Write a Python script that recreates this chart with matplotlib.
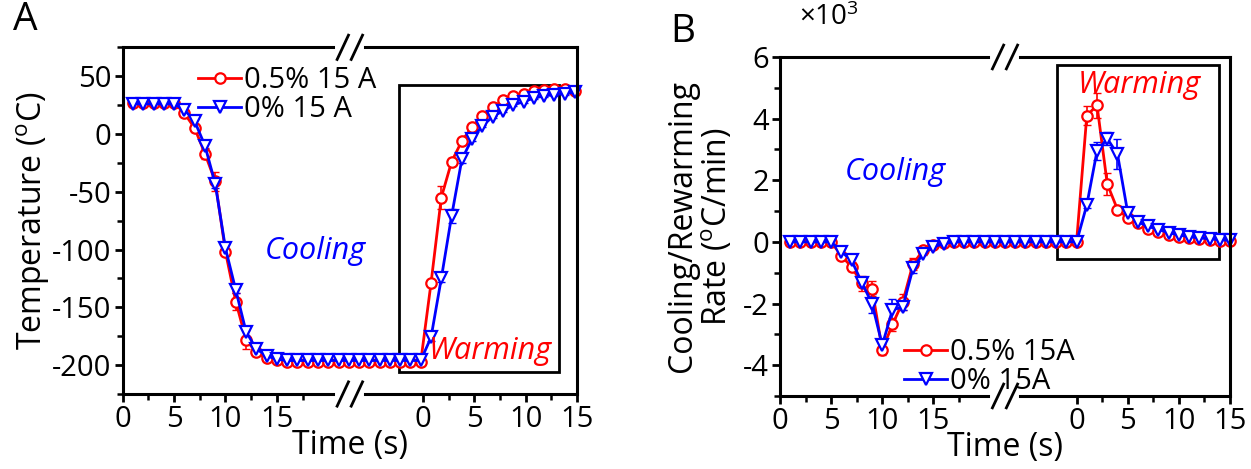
import numpy as np
import matplotlib.pyplot as plt
from matplotlib.patches import Rectangle

plt.rcParams['font.family'] = ['Open Sans', 'DejaVu Sans']
plt.rcParams['mathtext.fontset'] = 'custom'
plt.rcParams['mathtext.rm'] = 'Open Sans'
plt.rcParams['mathtext.it'] = 'Open Sans:italic'
plt.rcParams['axes.unicode_minus'] = False

# time on the drawn (broken) time line, 1 s steps: cooling part, then warming part
time = [1, 2, 3, 4, 5, 6, 7, 8, 9, 10, 11, 12, 13, 14, 15, 16, 17, 18, 19, 20, 21, 22,
        23, 24, 25, 26, 27, 28, 29, 30, 31, 32, 33, 34, 35, 36, 37, 38, 39, 40, 41, 42, 43, 44]

# A: temperature (oC)
temp_05 = [27, 27, 27, 27, 27, 18, 5, -17, -41, -102, -145, -178, -189, -194, -196,
           -197, -197, -197, -197, -197, -197, -197, -197, -197, -197, -197, -197, -197, -197,
           -129, -55, -24, -6, 6, 16, 23, 29, 33, 35, 37, 38, 39, 39, 37]
temp_05_err = [1, 1, 1, 1, 1, 2, 3, 5, 8, 3, 7, 8, 3, 2, 1,
               1, 1, 1, 1, 1, 1, 1, 1, 1, 1, 1, 1, 1, 1,
               3, 10, 3, 2, 2, 1, 1, 1, 1, 1, 1, 1, 1, 1, 1]
temp_0 = [26, 26, 26, 26, 26, 21, 11, -10, -43, -99, -135, -171, -186, -192, -195,
          -196, -196, -196, -196, -196, -196, -196, -196, -196, -196, -196, -196, -196, -196,
          -176, -125, -71, -22, -4, 7, 15, 20, 25, 28, 31, 33, 34, 35, 36]
temp_0_err = [1, 1, 1, 1, 1, 2, 2, 3, 4, 3, 3, 4, 2, 1, 1,
              1, 1, 1, 1, 1, 1, 1, 1, 1, 1, 1, 1, 1, 1,
              3, 3, 6, 3, 2, 1, 1, 1, 1, 1, 1, 1, 1, 1, 1]

# B: cooling / rewarming rate (x10^3 oC/min)
rate_05 = [0, 0, 0, 0, 0, -0.45, -0.81, -1.35, -1.52, -3.5, -2.68, -1.95, -0.72, -0.27, -0.1,
           -0.04, 0, 0, 0, 0, 0, 0, 0, 0, 0, 0, 0, 0, 0,
           4.1, 4.43, 1.88, 1.05, 0.78, 0.6, 0.42, 0.32, 0.23, 0.17, 0.12, 0.09, 0.06, 0.04, 0.02]
rate_05_err = [0, 0, 0, 0, 0, 0.08, 0.15, 0.25, 0.25, 0.18, 0.2, 0.25, 0.2, 0.08, 0.04,
               0.02, 0, 0, 0, 0, 0, 0, 0, 0, 0, 0, 0, 0, 0,
               0.3, 0.4, 0.35, 0.1, 0.06, 0.04, 0.03, 0.03, 0.02, 0.02, 0.02, 0.01, 0.01, 0.01, 0.01]
rate_0 = [0, 0, 0, 0, 0, -0.32, -0.6, -1.32, -2.0, -3.35, -2.2, -2.12, -0.86, -0.38, -0.16,
          -0.06, 0, 0, 0, 0, 0, 0, 0, 0, 0, 0, 0, 0, 0,
          1.2, 2.95, 3.35, 2.85, 0.95, 0.65, 0.5, 0.4, 0.3, 0.22, 0.17, 0.13, 0.1, 0.07, 0.05]
rate_0_err = [0, 0, 0, 0, 0, 0.08, 0.15, 0.1, 0.3, 0.15, 0.35, 0.1, 0.15, 0.06, 0.03,
              0.02, 0, 0, 0, 0, 0, 0, 0, 0, 0, 0, 0, 0, 0,
              0.1, 0.3, 0.2, 0.5, 0.08, 0.05, 0.04, 0.03, 0.03, 0.02, 0.02, 0.01, 0.01, 0.01, 0.01]

seg_ticks = [0, 5, 10, 15]
seg_minor = [2.5, 7.5, 12.5]


def style(ax, warm_zero, xmax, ylim, yticks, yminor):
    ax.set_xlim(0, xmax)
    ax.set_ylim(*ylim)
    major = seg_ticks + [warm_zero + t for t in seg_ticks]
    ax.set_xticks(major)
    ax.set_xticklabels([str(t) for t in seg_ticks] * 2)
    ax.set_xticks(seg_minor + [17.5] + [warm_zero + t for t in seg_minor], minor=True)
    ax.set_yticks(yticks)
    ax.set_yticks(yminor, minor=True)
    ax.tick_params(which='major', direction='out', length=6, width=2, labelsize=21, pad=2)
    ax.tick_params(which='minor', direction='out', length=4, width=1.8)
    for s in ['left', 'right']:
        ax.spines[s].set_linewidth(2.2)
    ax.spines['top'].set_visible(False)
    ax.spines['bottom'].set_visible(False)
    # broken top / bottom frame with // marks
    for y in (0, 1):
        ax.plot([0, 0.463], [y, y], color='black', lw=2.2, transform=ax.transAxes, clip_on=False)
        ax.plot([0.533, 1], [y, y], color='black', lw=2.2, transform=ax.transAxes, clip_on=False)
        for x0 in (0.472, 0.503):
            ax.plot([x0, x0 + 0.025], [y - 0.035, y + 0.035], color='black', lw=2,
                    transform=ax.transAxes, clip_on=False)
    ax.set_xlabel('Time (s)', fontsize=23, labelpad=-4)


def draw(ax, y05, e05, y0, e0, lab05, lab0):
    ax.errorbar(time, y05, yerr=e05, fmt='none', ecolor='red', elinewidth=1.2, capsize=3,
                clip_on=False)
    ax.errorbar(time, y0, yerr=e0, fmt='none', ecolor='blue', elinewidth=1.2, capsize=3,
                clip_on=False)
    ax.plot(time, y05, color='red', lw=2, marker='o', ms=7.5, mfc='white', mec='red',
            mew=1.6, label=lab05, clip_on=False)
    ax.plot(time, y0, color='blue', lw=2, marker='v', ms=8, mfc='white', mec='blue',
            mew=1.6, label=lab0, clip_on=False)


fig = plt.figure(figsize=(12.51, 4.69), dpi=100)

# Panel A
axA = fig.add_axes([0.0981, 0.1599, 0.3631, 0.7392])
draw(axA, temp_05, temp_05_err, temp_0, temp_0_err, '0.5% 15 A', '0% 15 A')
style(axA, 29.2, 44.2, (-225, 75), [-200, -150, -100, -50, 0, 50],
      [-225, -175, -125, -75, -25, 25, 75])
axA.set_ylabel('Temperature ($^{\\mathrm{o}}$C)', fontsize=23, labelpad=0)
axA.add_patch(Rectangle((26.9, -206), 15.6, 248.5, fill=False, ec='black', lw=2))
axA.text(18.7, -101, 'Cooling', color='blue', style='italic', fontsize=22, ha='center', va='center')
axA.text(35.8, -188, 'Warming', color='red', style='italic', fontsize=22, ha='center', va='center')
axA.legend(loc='upper left', bbox_to_anchor=(0.165, 0.945), frameon=False, fontsize=21,
           handlelength=1.5, handletextpad=0.1, labelspacing=0.0, borderpad=0, borderaxespad=0)
fig.text(0.02, 0.957, 'A', fontsize=28, ha='center', va='center')

# Panel B
axB = fig.add_axes([0.6235, 0.1557, 0.3597, 0.7228])
draw(axB, rate_05, rate_05_err, rate_0, rate_0_err, '0.5% 15A', '0% 15A')
style(axB, 29.0, 44.0, (-5, 6), [-4, -2, 0, 2, 4, 6], [-5, -3, -1, 1, 3, 5])
axB.set_ylabel('Cooling/Rewarming\nRate ($^{\\mathrm{o}}$C/min)', fontsize=23, labelpad=6,
               linespacing=1.05)
axB.add_patch(Rectangle((27.1, -0.54), 15.8, 6.28, fill=False, ec='black', lw=2))
axB.text(11.3, 2.26, 'Cooling', color='blue', style='italic', fontsize=22, ha='center', va='center')
axB.text(35.1, 5.08, 'Warming', color='red', style='italic', fontsize=22, ha='center', va='center')
axB.legend(loc='lower left', bbox_to_anchor=(0.275, 0.0), frameon=False, fontsize=21,
           handlelength=1.5, handletextpad=0.1, labelspacing=0.0, borderpad=0, borderaxespad=0)
fig.text(0.639, 0.962, '$\\times$10$^{3}$', fontsize=20, ha='left', va='center')
fig.text(0.546, 0.932, 'B', fontsize=28, ha='center', va='center')

fig.savefig('out.png', dpi=100)
